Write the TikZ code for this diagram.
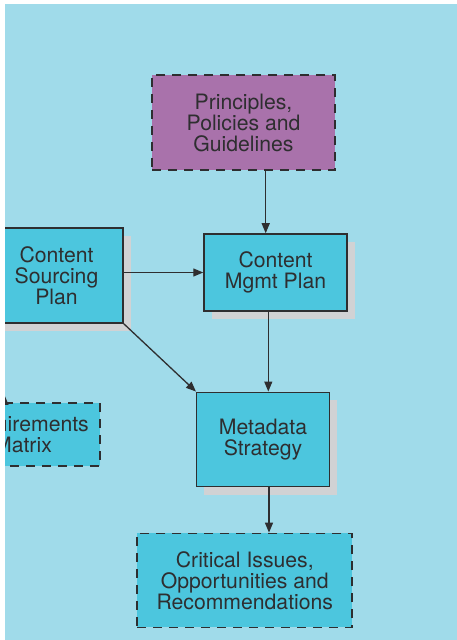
\documentclass[tikz,border=0pt]{standalone}
\usepackage{fontspec}
\setmainfont{TeX Gyre Heros}
\usetikzlibrary{arrows.meta,shadows}
\definecolor{bgblue}{HTML}{A0DBEA}
\definecolor{boxblue}{HTML}{4CC6DE}
\definecolor{boxpurple}{HTML}{A972AB}
\definecolor{shadowgray}{HTML}{D1D2D4}
\definecolor{inkgray}{HTML}{2E2E30}
\tikzset{
  box/.style={draw=inkgray, line width=1.5pt, fill=boxblue, inner sep=0pt,
    align=center, text=inkgray, font=\fontsize{21.2}{21}\selectfont},
  solidbox/.style={box, general shadow={fill=shadowgray, shadow xshift=7.5pt, shadow yshift=-8pt}},
  dashbox/.style={box, line width=1.7pt, dash pattern=on 9pt off 7pt},
  arr/.style={draw=inkgray, line width=1.3pt, -{Triangle[length=10pt,width=8pt]}}
}
\begin{document}
\begin{tikzpicture}[x=1pt,y=1pt]
\useasboundingbox (0,0) rectangle (457,640);
\fill[white] (0,0) rectangle (457,640);
\fill[bgblue] (5,0) rectangle (457,636);
\begin{scope}
\clip (5,0) rectangle (457,636);
\node[dashbox, fill=boxpurple, minimum width=183pt, minimum height=95pt] (pp) at (243.5,517.5) {Principles,\\Policies and\\Guidelines};
\node[solidbox, minimum width=143pt, minimum height=77pt] (cm) at (275.5,367.5) {Content\\Mgmt Plan};
\node[solidbox, minimum width=133pt, minimum height=95pt] (cs) at (56.5,364.5) {Content\\Sourcing\\Plan};
\node[solidbox, minimum width=132.6pt, minimum height=94.4pt] (md) at (263,200.5) {Metadata\\Strategy};
\node[dashbox, minimum width=154pt, minimum height=63pt] (rq) at (23,205.5) {Requirements\\Matrix};
\node[dashbox, minimum width=215pt, minimum height=94pt] (ci) at (244.8,59.5) {Critical Issues,\\Opportunities and\\Recommendations};
\coordinate (rqtip) at (4.5,245);
\draw[arr] ([xshift=22.2pt]pp.south) -- ([xshift=22.2pt]pp.south |- cm.north);
\draw[arr] (cs.east |- cm.west) -- (cm.west);
\draw[arr] (cs.south east) -- (md.north west);
\draw[arr] ([xshift=-7.2pt]cm.south) -- ([xshift=-7.2pt]cm.south |- md.north);
\draw[arr] ([xshift=6pt]md.south) -- ([xshift=6pt]md.south |- ci.north);
\draw[arr] (rqtip |- rq.north) -- (rqtip);
\end{scope}
\end{tikzpicture}
\end{document}
